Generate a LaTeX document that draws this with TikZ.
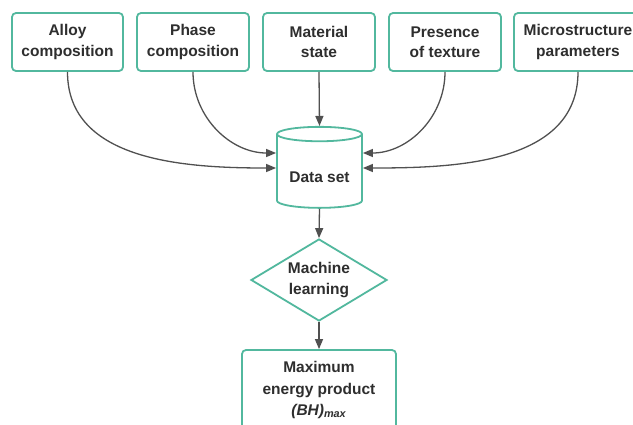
\documentclass[tikz,border=0pt]{standalone}
\usepackage{fontspec}
\setmainfont{Liberation Sans}
\usetikzlibrary{shapes.geometric,arrows.meta}
\definecolor{boxteal}{HTML}{52B89E}
\definecolor{linkgray}{HTML}{505050}
\definecolor{txt}{HTML}{2E2E2E}
\begin{document}
\begin{tikzpicture}[x=1pt,y=1pt,
  box/.style={draw=boxteal,line width=1.8pt,rounded corners=4pt,fill=white,
    minimum width=112pt,minimum height=58pt,align=center,inner sep=2pt,
    font=\fontsize{15.5}{20.5}\selectfont\bfseries,text=txt},
  link/.style={draw=linkgray,line width=1.3pt,-{Triangle[length=10pt,width=8pt]}}]
\clip (0,0) rectangle (633,-424);
\fill[white] (0,0) rectangle (633,-424);

% inputs
\node[box,minimum width=111pt] (alloy) at (67.5,-42) {Alloy\\composition};
\node[box] (phase) at (193,-42) {Phase\\composition};
\node[box] (state) at (319,-42) {Material\\state};
\node[box] (texture) at (445,-42) {Presence\\of texture};
\node[box,minimum width=128pt] (micro) at (578,-42) {Microstructure\\parameters};

% data base, learner and result
\node[box,rounded corners=0pt,cylinder,shape border rotate=90,aspect=3.6,
  minimum width=85pt,minimum height=81pt] (data) at (319.5,-172.5) {};
\node[font=\fontsize{15.5}{20.5}\selectfont\bfseries,text=txt] (datatext) at (319.5,-177) {Data set};
\node[box,rounded corners=0pt,diamond,aspect=1.66,inner sep=0pt,
  minimum width=136pt,minimum height=82pt] (ml) at (319,-280) {Machine\\learning};
\node[box,minimum width=154pt,minimum height=80pt,
  font=\fontsize{15.5}{21.5}\selectfont\bfseries] (bh) at (319,-390)
  {Maximum\\energy product\\\textit{(BH)}\textsubscript{\textit{max}}};

\path[link] (alloy.south) to[out=-90,in=180] ([yshift=4.5pt]data.west);
\path[link] (phase.south) to[out=-90,in=180] ([yshift=19.5pt]data.west);
\path[link] (state.south) -- (data.north);
\path[link] (texture.south) to[out=-90,in=0] ([yshift=19.5pt]data.east);
\path[link] (micro.south) to[out=-90,in=0] ([yshift=4.5pt]data.east);
\path[link] (data.south) -- (ml.north);
\path[link] (ml.south) -- (bh.north);
\end{tikzpicture}
\end{document}
